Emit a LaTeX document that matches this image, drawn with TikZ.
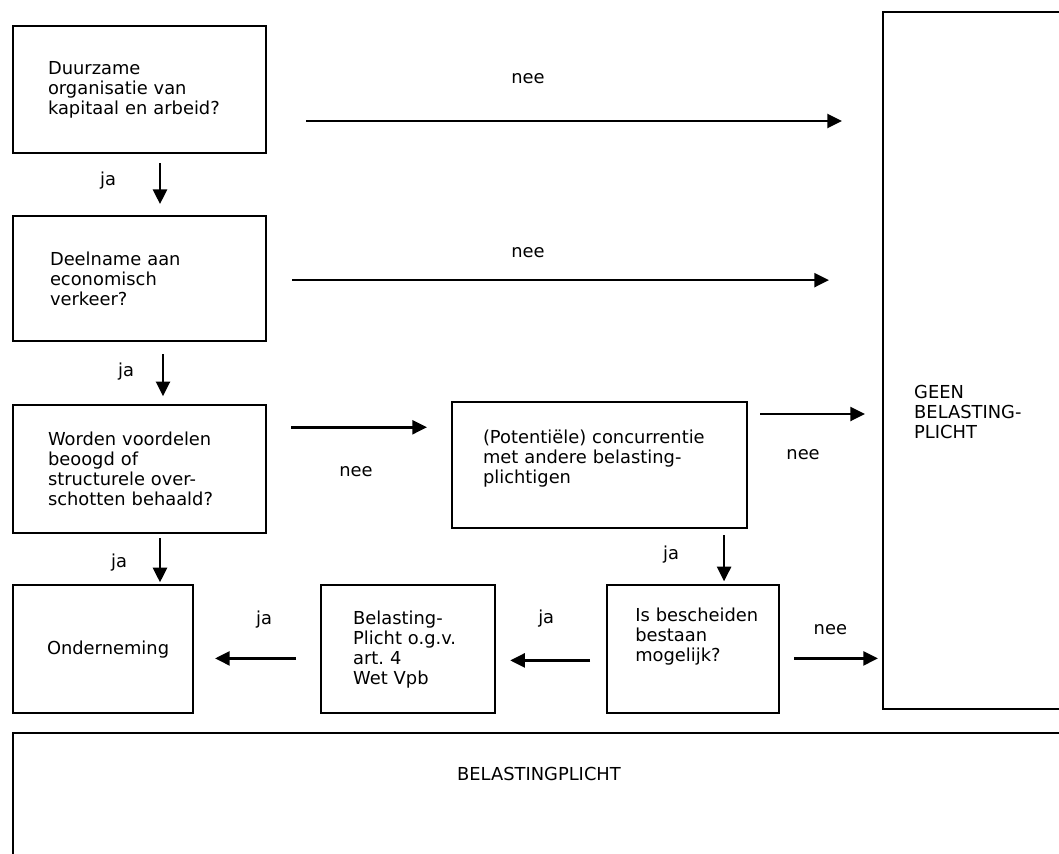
\documentclass[tikz,border=0pt]{standalone}
\usepackage{fontspec}
\setmainfont{DejaVu Sans}
\usetikzlibrary{arrows.meta, positioning, calc}
\hyphenpenalty=10000

\begin{document}
\begin{tikzpicture}[
    x=0.75pt, y=-0.75pt,
    box/.style={rectangle, draw=black, line width=1.6pt, align=left, font=\fontsize{13.4pt}{15pt}\selectfont},
    arrow/.style={-{Triangle[length=11pt, width=10.5pt]}, line width=1.9pt},
    lbl/.style={font=\fontsize{13.4pt}{15pt}\selectfont, inner sep=1pt},
    txt/.style={font=\fontsize{13.4pt}{15pt}\selectfont, align=left, inner sep=0pt}
]
    % Page frame
    \useasboundingbox (0,0) rectangle (1059,853);
    \clip (0,0) rectangle (1059,853);

    % Questions (left column)
    \node[box, minimum width=189.75pt, minimum height=95.25pt, text width=137.25pt, inner xsep=26.25pt] (q1) at (139.5,89.5)
        {Duurzame\\organisatie van\\kapitaal~en~arbeid?};
    \node[box, below=45.75pt of q1, minimum width=189.75pt, minimum height=93.75pt, text width=134.25pt, inner xsep=27.75pt] (q2)
        {Deelname aan\\economisch\\verkeer?};
    \node[box, below=46.5pt of q2, minimum width=189.75pt, minimum height=96pt, text width=137.25pt, inner xsep=26.25pt] (q3)
        {Worden~voordelen\\beoogd of\\structurele~over-\\schotten~behaald?};

    % Bottom row
    \node[box, below=37.5pt of q3.south west, anchor=north west, minimum width=135pt, minimum height=96pt, text width=84pt, inner xsep=25.5pt] (ond)
        {Onderneming};
    \node[box, right=94.5pt of ond, minimum width=130.5pt, minimum height=96pt, text width=82.5pt, inner xsep=24pt] (art4)
        {Belasting-\\Plicht~o.g.v.\\art.~4\\Wet~Vpb};
    \node[box, right=82.5pt of art4, minimum width=129pt, minimum height=96pt, text width=87pt, inner xsep=21pt, text depth=52pt] (besch)
        {Is~bescheiden\\bestaan\\mogelijk?};

    % Competition question
    \node[box, minimum width=221.25pt, minimum height=94.5pt, text width=174.75pt, inner xsep=23.25pt, text depth=43pt] (conc) at (599.5,465)
        {(Potentiële)~concurrentie\\met~andere~belasting-\\plichtigen};

    % Outcomes
    \node[box, minimum width=144pt, minimum height=522.75pt] (geen) at (979,360.5) {};
    \node[txt, anchor=north west] (geentxt) at ($(geen.north west)+(32,374)$) {GEEN\\BELASTING-\\PLICHT};
    \node[box, minimum width=796.5pt, minimum height=110.25pt] (plicht) at (544,806.5) {};
    \node[txt] (plichttxt) at ($(plicht.north)+(-5,42)$) {BELASTINGPLICHT};

    % Connectors: nee
    \coordinate (n1s) at ($(q1.east)+(39,31.5)$);
    \draw[arrow, shorten >=30pt] (n1s) -- (n1s -| geen.west);
    \node[lbl] (nee1) at ($(n1s)+(222,-42)$) {nee};

    \coordinate (n2s) at ($(q2.east)+(25,1.5)$);
    \draw[arrow, shorten >=39.75pt] (n2s) -- (n2s -| geen.west);
    \node[lbl] (nee2) at ($(n2s)+(236,-28)$) {nee};

    \coordinate (n3s) at ($(q3.east)+(24,-42)$);
    \draw[arrow, shorten >=18pt] (n3s) -- (n3s -| conc.west);
    \node[lbl] (nee3) at ($(n3s)+(65,44)$) {nee};

    \coordinate (n4s) at ($(conc.east)+(12,-51)$);
    \draw[arrow, shorten >=12.75pt] (n4s) -- (n4s -| geen.west);
    \node[lbl] (nee4) at ($(n4s)+(43,41)$) {nee};

    \coordinate (n5s) at ($(besch.east)+(14,9)$);
    \draw[arrow, shorten >=3pt] (n5s) -- (n5s -| geen.west);
    \node[lbl] (nee5) at ($(n5s)+(36,-29)$) {nee};

    % Connectors: ja
    \coordinate (v1s) at ($(q1.south)+(20.5,9)$);
    \draw[arrow, shorten >=8.25pt] (v1s) -- (v1s |- q2.north);
    \node[lbl] (ja1) at ($(v1s)+(-52,18)$) {ja};

    \coordinate (v2s) at ($(q2.south)+(23.5,12)$);
    \draw[arrow, shorten >=6pt] (v2s) -- (v2s |- q3.north);
    \node[lbl] (ja2) at ($(v2s)+(-37,17)$) {ja};

    \coordinate (v3s) at ($(q3.south)+(20.5,4)$);
    \draw[arrow, shorten >=1.5pt] (v3s) -- (v3s |- ond.north);
    \node[lbl] (ja3) at ($(v3s)+(-41,24)$) {ja};

    \coordinate (v4s) at ($(conc.south east)+(-24,6)$);
    \draw[arrow, shorten >=2.25pt] (v4s) -- (v4s |- besch.north);
    \node[lbl] (ja4) at ($(v4s)+(-53,19)$) {ja};

    \coordinate (h1s) at ($(besch.west)+(-16,11)$);
    \draw[arrow, shorten >=10.5pt] (h1s) -- (h1s -| art4.east);
    \node[lbl] (ja5) at ($(h1s)+(-44,-42)$) {ja};

    \coordinate (h2s) at ($(art4.west)+(-24,9)$);
    \draw[arrow, shorten >=15.75pt] (h2s) -- (h2s -| ond.east);
    \node[lbl] (ja6) at ($(h2s)+(-32,-39)$) {ja};

\end{tikzpicture}
\end{document}
